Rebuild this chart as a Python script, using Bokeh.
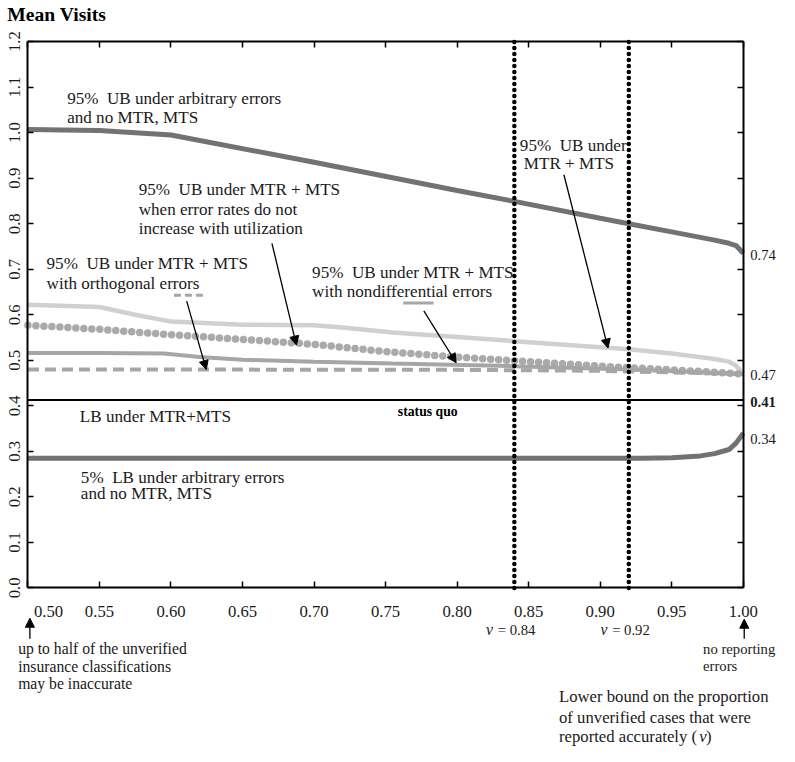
from bokeh.plotting import figure
from bokeh.models import Range1d, FixedTicker, LinearAxis, Label, Arrow, NormalHead
from bokeh.embed import file_html
from bokeh.resources import INLINE

# ---------------- data ----------------
v_ub_arb = [0.50, 0.55, 0.60, 0.70, 0.80, 0.84, 0.90, 0.92, 0.95, 0.98, 0.99, 0.995, 1.00]
ub_arb = [1.007, 1.005, 0.995, 0.935, 0.873, 0.849, 0.812, 0.800, 0.782, 0.764, 0.757, 0.752, 0.735]

v_ub_mtr = [0.50, 0.55, 0.575, 0.60, 0.65, 0.70, 0.72, 0.755, 0.80, 0.84, 0.92, 0.95, 0.98, 0.99, 0.995, 1.00]
ub_mtr = [0.622, 0.617, 0.600, 0.585, 0.578, 0.577, 0.572, 0.561, 0.551, 0.542, 0.524, 0.515, 0.503, 0.497, 0.488, 0.470]

v_ub_noinc = [0.50, 0.55, 0.60, 0.65, 0.70, 0.75, 0.80, 0.84, 0.90, 0.95, 1.00]
ub_noinc = [0.577, 0.568, 0.556, 0.546, 0.535, 0.519, 0.507, 0.499, 0.487, 0.479, 0.470]

v_ub_nondiff = [0.50, 0.55, 0.595, 0.62, 0.65, 0.70, 0.755, 0.84, 0.92, 1.00]
ub_nondiff = [0.516, 0.516, 0.515, 0.507, 0.501, 0.497, 0.493, 0.487, 0.480, 0.470]

v_ub_orth = [0.50, 0.80, 0.90, 1.00]
ub_orth = [0.480, 0.479, 0.477, 0.470]

v_status = [0.50, 1.00]
status_quo = [0.413, 0.413]

v_lb_arb = [0.50, 0.93, 0.95, 0.97, 0.98, 0.99, 0.995, 1.00]
lb_arb = [0.285, 0.285, 0.286, 0.290, 0.295, 0.304, 0.318, 0.340]

v_marks = [0.84, 0.92]
v_mark_labels = ["= 0.84", "= 0.92"]

x_ticks = [0.50, 0.55, 0.60, 0.65, 0.70, 0.75, 0.80, 0.85, 0.90, 0.95, 1.00]
x_tick_labels = ["\u2007\u2007\u2007\u20070.50", "0.55", "0.60", "0.65", "0.70", "0.75",
                 "0.80", "0.85", "0.90", "0.95", "1.00"]
y_ticks = [0.0, 0.1, 0.2, 0.3, 0.4, 0.5, 0.6, 0.7, 0.8, 0.9, 1.0, 1.1, 1.2]
y_tick_labels = ["0.0", "0.1", "0.2", "0.3", "0.4", "0.5", "0.6", "0.7", "0.8", "0.9", "1.0", "1.1", "1.2"]

end_labels = ["0.74", "0.47", "0.41", "0.34"]
end_values = [ub_arb[-1], ub_mtr[-1], status_quo[-1], lb_arb[-1]]

# ---------------- styling ----------------
SERIF = "Liberation Serif"
DARK = "#727272"
LIGHT = "#d0d0d0"
MID = "#a6a6a6"
TXT = "#1a1a1a"

REF_W, REF_H = 795, 762          # reference picture size
W, H = 779, 746                  # canvas that fits the window with its 8px margin
S = W / REF_W                    # uniform scale reference -> canvas


def fs(n):
    return f"{n * S:.1f}px"


# reference-pixel -> data helpers (pixels of the reference picture)
def X(px):
    return 0.5 + (px - 28) / 1460


def Y(py):
    return (600 - py) / 465


p = figure(width=W, height=H, output_backend="svg", toolbar_location=None,
           x_range=Range1d(X(0), X(REF_W)), y_range=Range1d(Y(REF_H), Y(0)),
           min_border_left=0, min_border_right=0, min_border_top=0, min_border_bottom=0,
           x_axis_location=None, y_axis_location=None)
p.outline_line_color = None
p.xgrid.visible = False
p.ygrid.visible = False
p.background_fill_color = "white"
p.border_fill_color = "white"

x0, x1 = x_ticks[0], x_ticks[-1]
y0, y1 = y_ticks[0], y_ticks[-1]


def style_axis(ax, ticks, labels=None):
    ax.ticker = FixedTicker(ticks=ticks)
    ax.axis_line_width = 2
    ax.axis_line_color = "black"
    ax.major_tick_in = 6
    ax.major_tick_out = 0
    ax.major_tick_line_width = 1.5
    ax.minor_tick_line_color = None
    ax.major_label_text_font = SERIF
    ax.major_label_text_font_size = fs(17)
    if labels is None:
        ax.major_label_text_color = None
    else:
        ax.major_label_text_color = TXT
        ax.major_label_overrides = {t: s for t, s in zip(ticks, labels)}


xb = LinearAxis(fixed_location=y0, bounds=(x0, x1))
style_axis(xb, x_ticks, x_tick_labels)
xb.major_label_standoff = 14
p.add_layout(xb, "below")

yl = LinearAxis(fixed_location=x0, bounds=(y0, y1))
style_axis(yl, y_ticks, y_tick_labels)
yl.major_label_orientation = "vertical"
yl.major_label_standoff = 8
p.add_layout(yl, "left")

xt = LinearAxis(fixed_location=y1, bounds=(x0, x1))
style_axis(xt, x_ticks)
p.add_layout(xt, "above")

yr = LinearAxis(fixed_location=x1, bounds=(y0, y1))
style_axis(yr, y_ticks)
p.add_layout(yr, "right")

# ---------------- series ----------------
p.line(v_ub_mtr, ub_mtr, line_color=LIGHT, line_width=4.5)
p.line(v_ub_noinc, ub_noinc, line_color="#aaaaaa", line_width=7.5, line_dash="0 8", line_cap="round")
p.line(v_ub_nondiff, ub_nondiff, line_color=MID, line_width=4)
p.line(v_ub_orth, ub_orth, line_color=MID, line_width=4, line_dash="11 6")
p.line(v_status, status_quo, line_color="black", line_width=2)
p.line(v_ub_arb, ub_arb, line_color=DARK, line_width=5)
p.line(v_lb_arb, lb_arb, line_color=DARK, line_width=5)
p.segment(x0=v_marks, x1=v_marks, y0=[y0] * len(v_marks), y1=[y1] * len(v_marks),
          line_color="black", line_width=4.5, line_dash="0 6", line_cap="round")


# ---------------- annotations ----------------
def txt(x, y, s, size=17.5, style="normal", align="left", color=TXT):
    p.add_layout(Label(x=X(x), y=Y(y), text=s, text_font=SERIF, text_font_size=fs(size),
                       text_font_style=style, text_align=align, text_baseline="middle",
                       text_color=color))


def arrow(xa, ya, xb_, yb_, size=9):
    p.add_layout(Arrow(end=NormalHead(size=size, fill_color="black", line_color="black", line_width=1),
                       x_start=X(xa), y_start=Y(ya), x_end=X(xb_), y_end=Y(yb_),
                       line_color="black", line_width=1.3))


NB = "\u00a0"

txt(7, 14, "Mean Visits", size=20, style="bold", color="black")

txt(68, 100, f"95%{NB} UB under arbitrary errors")
txt(68, 120, "and no MTR, MTS")

txt(141, 193, f"95%{NB} UB under MTR + MTS")
txt(141, 213, "when error rates do not")
txt(141, 233, "increase with utilization")
arrow(277, 248, 302, 352)

txt(47, 269, f"95%{NB} UB under MTR + MTS")
txt(47, 289, "with orthogonal errors")
p.line([X(177), X(208)], [Y(301), Y(301)], line_color=MID, line_width=3, line_dash="7 4")
arrow(190, 307, 210, 377)

txt(318, 278, f"95%{NB} UB under MTR + MTS")
txt(318, 297, "with nondifferential errors")
p.line([X(411), X(442)], [Y(309), Y(309)], line_color=MID, line_width=3)
arrow(432, 317, 465, 370)

txt(530, 148, f"95%{NB} UB under")
txt(534, 166, "MTR + MTS")
arrow(575, 178, 620, 355)

txt(81, 425, "LB under MTR+MTS")
txt(436, 420, "status quo", size=14, style="bold", align="center", color="black")

txt(82, 487, f"5%{NB} LB under arbitrary errors")
txt(82, 504, "and no MTR, MTS")

# values at the right end of the curves
end_offsets = [-2, -1.5, -2, -6]
for s, val, off in zip(end_labels, end_values, end_offsets):
    p.add_layout(Label(x=x1, y=val, x_offset=7, y_offset=off, text=s, text_font=SERIF,
                       text_font_size=fs(15), text_baseline="middle", text_align="left",
                       text_color=TXT, text_font_style="bold" if s == "0.41" else "normal"))

# v markers below the axis
for vm, lab in zip(v_marks, v_mark_labels):
    p.add_layout(Label(x=vm, y=Y(643), x_offset=-29 * S, text="v", text_font=SERIF,
                       text_font_size=fs(16), text_font_style="italic", text_baseline="middle",
                       text_align="left", text_color=TXT))
    p.add_layout(Label(x=vm, y=Y(643), x_offset=-17 * S, text=lab, text_font=SERIF,
                       text_font_size=fs(15), text_baseline="middle", text_align="left",
                       text_color=TXT))

arrow(30, 652, 30, 631)
txt(18, 662, "up to half of the unverified", size=16)
txt(18, 680, "insurance classifications", size=16)
txt(18, 698, "may be inaccurate", size=16)

arrow(759, 652, 759, 632)
txt(717, 662, "no reporting", size=15)
txt(717, 680, "errors", size=15)

txt(570, 711, "Lower bound on the proportion", size=17)
txt(570, 732, "of unverified cases that were", size=17)
txt(570, 752, "reported accurately (", size=17)
txt(713, 752, "v", size=17, style="italic")
txt(720, 752, ")", size=17)

open("out.html", "w").write(file_html(p, INLINE))
